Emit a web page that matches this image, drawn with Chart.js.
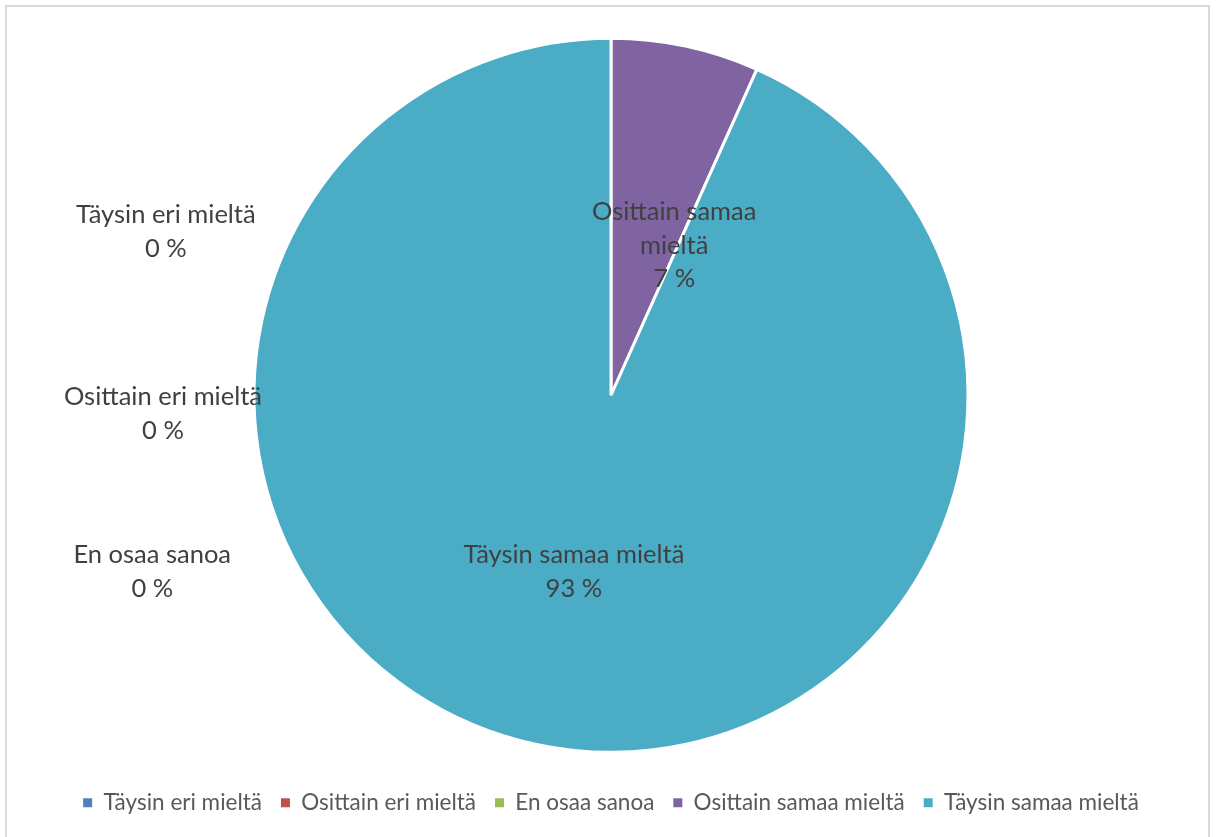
<!DOCTYPE html>
<html><head><meta charset="utf-8">
<script src="https://cdn.jsdelivr.net/npm/chart.js@4"></script>
<style>
html,body{margin:0;padding:0;background:#fff;overflow:hidden}
#wrap{position:absolute;left:0;top:0;width:1216px;height:837px}
#frame{position:absolute;left:5px;top:5px;width:1205px;height:840px;border:2px solid #d9d9d9;box-sizing:border-box;pointer-events:none}
</style></head><body>
<div id="wrap"><canvas id="c" width="1216" height="837"></canvas></div>
<div id="frame"></div>
<script>
const categories = ["Täysin eri mieltä","Osittain eri mieltä","En osaa sanoa","Osittain samaa mieltä","Täysin samaa mieltä"];
const shares = [0, 0, 0, 6.7, 93.3];
const colors = ["#4F81BD","#C0504D","#9BBB59","#8064A2","#4BACC6"];

const labelFont = "25.5px Lato";
// label placement: [dx, dy] offsets relative to pie centre, in units of radius; wrapped lines
const labelLayout = [
  {dx:-1.247,dy:-0.505, lines:["Täysin eri mieltä"]},
  {dx:-1.255,dy: 0.005, lines:["Osittain eri mieltä"]},
  {dx:-1.285,dy: 0.448, lines:["En osaa sanoa"]},
  {dx: 0.177,dy:-0.513, lines:["Osittain samaa","mieltä"]},
  {dx:-0.104,dy: 0.448, lines:["Täysin samaa mieltä"]}
];

const labelPlugin = {
  id:'pieLabels',
  afterDatasetsDraw(chart){
    const ctx = chart.ctx;
    const meta = chart.getDatasetMeta(0);
    const arc0 = meta.data[0];
    const cx = arc0.x, cy = arc0.y, r = arc0.outerRadius;
    ctx.save();
    ctx.font = labelFont;
    ctx.fillStyle = "#404040";
    ctx.textAlign = "center";
    ctx.textBaseline = "middle";
    const lh = 33.5;
    chart.data.labels.forEach((lab,i)=>{
      const L = labelLayout[i];
      const lines = L.lines.concat([Math.round(chart.data.datasets[0].data[i]) + " %"]);
      const x = cx + L.dx*r, y0 = cy + L.dy*r;
      lines.forEach((t,k)=>ctx.fillText(t, x, y0 + k*lh));
    });
    ctx.restore();
  }
};

new Chart(document.getElementById('c'), {
  type:'pie',
  data:{labels:categories, datasets:[{data:shares, backgroundColor:colors, borderColor:"#ffffff", borderWidth:3, radius:357}]},
  options:{
    responsive:false, animation:false, devicePixelRatio:1,
    layout:{padding:{top:18,bottom:13,left:6,right:0}},
    plugins:{
      tooltip:{enabled:false},
      legend:{position:'bottom',
        labels:{font:{family:'Lato',size:22.5}, color:'#595959', boxWidth:9, boxHeight:9, padding:19,
          generateLabels(chart){
            const items = Chart.controllers.pie.overrides.plugins.legend.labels.generateLabels(chart);
            return items.map(it=>Object.assign(it,{lineWidth:0, strokeStyle:it.fillStyle}));
          }}}
    }
  },
  plugins:[labelPlugin]
});
</script>
</body></html>
